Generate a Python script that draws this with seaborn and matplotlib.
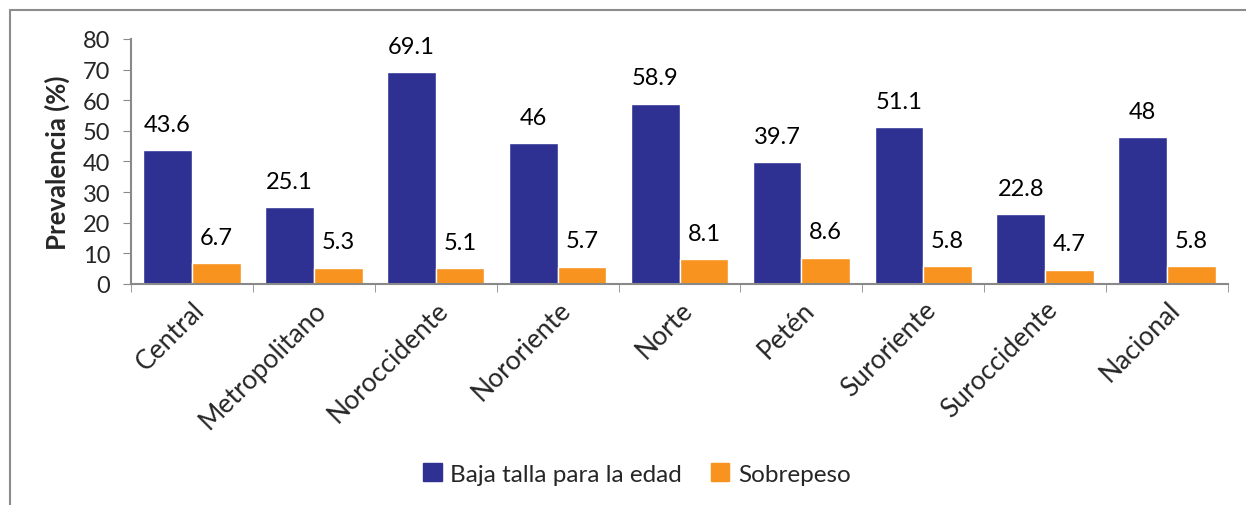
import matplotlib
matplotlib.use("Agg")
import matplotlib.pyplot as plt
import seaborn as sns
import pandas as pd
from matplotlib.lines import Line2D
from matplotlib.ticker import FixedLocator

regiones = ["Central", "Metropolitano", "Noroccidente", "Nororiente", "Norte",
            "Petén", "Suroriente", "Suroccidente", "Nacional"]
baja_talla = [43.6, 25.1, 69.1, 46, 58.9, 39.7, 51.1, 22.8, 48]
sobrepeso = [6.7, 5.3, 5.1, 5.7, 8.1, 8.6, 5.8, 4.7, 5.8]
series = ["Baja talla para la edad", "Sobrepeso"]
colores = ["#2E3192", "#F7931E"]

df = pd.DataFrame({
    "Región": regiones * 2,
    "Serie": [series[0]] * len(regiones) + [series[1]] * len(regiones),
    "Valor": baja_talla + sobrepeso,
})

sns.set_style("white")
plt.rcParams["font.family"] = ["Lato", "DejaVu Sans"]

fig = plt.figure(figsize=(12.46, 5.06), dpi=100)
ax = fig.add_axes([0.1051, 0.4368, 0.8805, 0.4842])

sns.barplot(data=df, x="Región", y="Valor", hue="Serie", palette=colores,
            hue_order=series, order=regiones, width=0.8, ax=ax, errorbar=None,
            saturation=1)

for cont in ax.containers:
    ax.bar_label(cont, labels=[f"{v:g}" for v in cont.datavalues],
                 padding=11, fontsize=17, color="black")

ax.set_ylim(0, 80)
ax.set_xlim(-0.5, len(regiones) - 0.5)
ax.set_yticks(range(0, 81, 10))
ax.tick_params(axis="y", labelsize=17, length=6, color="#898989", direction="out", pad=9, left=True)
ax.set_xticks(range(len(regiones)))
ax.set_xticklabels(regiones, rotation=45, ha="right", rotation_mode="anchor", fontsize=19)
ax.tick_params(axis="x", which="major", length=0, pad=9)
ax.xaxis.set_minor_locator(FixedLocator([i - 0.5 for i in range(len(regiones) + 1)]))
ax.tick_params(axis="x", which="minor", length=6, color="#898989", direction="out", bottom=True)
ax.set_xlabel("")
ax.set_ylabel("Prevalencia (%)", fontsize=18.5, fontweight="bold", labelpad=9)

for s in ["top", "right"]:
    ax.spines[s].set_visible(False)
for s in ["left", "bottom"]:
    ax.spines[s].set_color("#898989")
    ax.spines[s].set_linewidth(1.5)

ax.legend_.remove()
handles = [plt.Rectangle((0, 0), 1, 1, color=c) for c in colores]
fig.legend(handles, series, loc="center", bbox_to_anchor=(637 / 1246, 1 - 475 / 506),
           ncol=2, frameon=False, fontsize=17.5, handlelength=0.75, handleheight=0.75,
           handletextpad=0.35, columnspacing=1.2)

# outer frame (top and left edges)
fig.add_artist(Line2D([10 / 1246, 1.0], [1 - 11 / 506, 1 - 11 / 506],
                      transform=fig.transFigure, color="#8c8c8c", linewidth=1.5))
fig.add_artist(Line2D([10 / 1246, 10 / 1246], [0, 1 - 11 / 506],
                      transform=fig.transFigure, color="#8c8c8c", linewidth=1.5))

fig.savefig("out.png", dpi=100)
